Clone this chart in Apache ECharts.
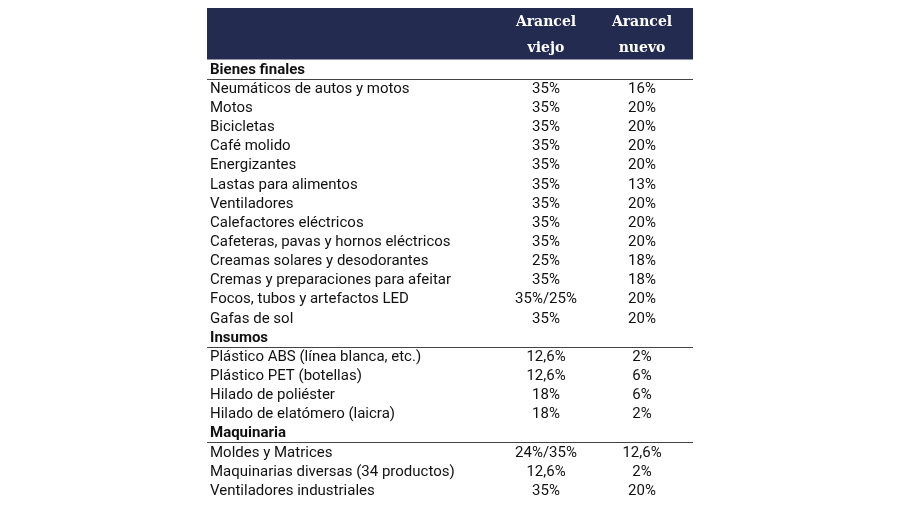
<!DOCTYPE html>
<html><head><meta charset="utf-8">
<script src="https://cdn.jsdelivr.net/npm/echarts@6/dist/echarts.min.js"></script>
<style>html,body{margin:0;padding:0;background:#fff}#c{width:900px;height:506px}</style>
</head><body><div id="c"></div>
<script>
// ---- data ----
const headerOld = ["Arancel", "viejo"];
const headerNew = ["Arancel", "nuevo"];
const sectionTitles = ["Bienes finales", "Insumos", "Maquinaria"];
const categories = [
  "Bienes finales",
  "Neumáticos de autos y motos",
  "Motos",
  "Bicicletas",
  "Café molido",
  "Energizantes",
  "Lastas para alimentos",
  "Ventiladores",
  "Calefactores eléctricos",
  "Cafeteras, pavas y hornos eléctricos",
  "Creamas solares y desodorantes",
  "Cremas y preparaciones para afeitar",
  "Focos, tubos y artefactos LED",
  "Gafas de sol",
  "Insumos",
  "Plástico ABS (línea blanca, etc.)",
  "Plástico PET (botellas)",
  "Hilado de poliéster",
  "Hilado de elatómero (laicra)",
  "Maquinaria",
  "Moldes y Matrices",
  "Maquinarias diversas (34 productos)",
  "Ventiladores industriales"
];
const oldRates = ["", "35%", "35%", "35%", "35%", "35%", "35%", "35%", "35%", "35%", "25%", "35%", "35%/25%", "35%",
  "", "12,6%", "12,6%", "18%", "18%", "", "24%/35%", "12,6%", "35%"];
const newRates = ["", "16%", "20%", "20%", "20%", "20%", "13%", "20%", "20%", "20%", "18%", "18%", "20%", "20%",
  "", "2%", "6%", "6%", "2%", "", "12,6%", "2%", "20%"];

// ---- layout (not data) ----
const COL_NAME = 3, COL_OLD = 338, COL_NEW = 435, XMAX = 486;
const HEADER_H = 51.5;
const NAVY = '#242b50';
const FONT = 'Roboto';
const TEXT_DY = 1;

const chart = echarts.init(document.getElementById('c'), null, {renderer: 'canvas'});

function renderRow(params, api) {
  const i = api.value(0);
  const p0 = api.coord([0, i]);
  const pOld = api.coord([COL_OLD, i]);
  const pNew = api.coord([COL_NEW, i]);
  const pEnd = api.coord([XMAX, i]);
  const bandH = api.size([0, 1])[1];
  const name = categories[i];
  const isSection = sectionTitles.indexOf(name) >= 0;
  const children = [];
  const x0 = api.coord([COL_NAME, i])[0];
  const ty = p0[1] + TEXT_DY;
  children.push({type: 'text', style: {x: x0, y: ty, text: name, font: (isSection ? 'bold ' : '') + '15px ' + FONT,
    fill: '#111', align: 'left', verticalAlign: 'middle'}});
  if (!isSection) {
    children.push({type: 'text', style: {x: pOld[0] + 1, y: ty, text: oldRates[i], font: '15px ' + FONT,
      fill: '#111', align: 'center', verticalAlign: 'middle'}});
    children.push({type: 'text', style: {x: pNew[0], y: ty, text: newRates[i], font: '15px ' + FONT,
      fill: '#111', align: 'center', verticalAlign: 'middle'}});
  } else {
    const ly = Math.round(p0[1] + bandH / 2) + 0.5;
    children.push({type: 'line', shape: {x1: p0[0], y1: ly, x2: pEnd[0], y2: ly},
      style: {stroke: '#444', lineWidth: 1}});
  }
  if (i === 0) {
    const top = p0[1] - bandH / 2;
    children.push({type: 'rect', shape: {x: p0[0], y: top - HEADER_H, width: pEnd[0] - p0[0], height: HEADER_H},
      style: {fill: NAVY}, z2: -1});
    [[headerOld, pOld[0] + 1], [headerNew, pNew[0]]].forEach(([lines, x]) => {
      lines.forEach((t, k) => {
        children.push({type: 'text', style: {x: x, y: top - HEADER_H + 14.5 + k * 26, text: t,
          font: 'bold 14px "DejaVu Serif"', fill: '#fff', align: 'center', verticalAlign: 'middle'}});
      });
    });
  }
  return {type: 'group', children: children};
}

chart.setOption({
  animation: false,
  grid: {left: 207, right: 207, top: 59.5, bottom: 6.4},
  xAxis: {type: 'value', min: 0, max: XMAX, show: false},
  yAxis: {type: 'category', data: categories, inverse: true, show: false},
  series: [{
    type: 'custom',
    renderItem: renderRow,
    data: categories.map((c, i) => [i]),
    encode: {y: 0},
    clip: false
  }]
});
</script>
</body></html>
